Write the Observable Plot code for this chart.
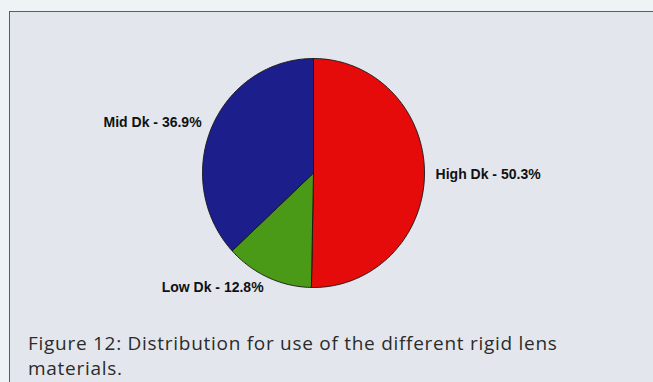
<!DOCTYPE html>
<html>
<head>
<meta charset="utf-8">
<script src="https://cdn.jsdelivr.net/npm/d3@7"></script>
<script src="https://cdn.jsdelivr.net/npm/@observablehq/plot@0.6"></script>
<style>
  html, body { margin: 0; padding: 0; width: 653px; height: 382px; overflow: hidden; background: #eef3f6; }
  #panel { position: absolute; left: 9px; top: 11px; width: 700px; height: 420px; background: #e3e7ed; border: 1px solid #5b5f64; }
  #chart { position: absolute; left: 0; top: 0; }
  #caption { position: absolute; left: 28px; top: 331px; font-family: "Open Sans", sans-serif; font-size: 19px; line-height: 25px; letter-spacing: 0.72px; color: #2b2b2b; }
  #caption div { height: 25px; }
</style>
</head>
<body>
<div id="panel"></div>
<div id="chart"></div>
<div id="caption"><div>Figure 12: Distribution for use of the different rigid lens</div><div>materials.</div></div>
<script>
// Share of rigid lens materials in use (percent), clockwise from 12 o'clock
const categories = ["High Dk", "Low Dk", "Mid Dk"];
const shares = [50.3, 12.8, 36.9];
const colors = ["#e60b0b", "#4b9a17", "#1c1f8b"];

const total = d3.sum(shares);

// Angular extent of each slice (degrees, clockwise from the top)
let start = 0;
const slices = categories.map((category, i) => {
  const sweep = (shares[i] / total) * 360;
  const s = { category, value: shares[i], a0: start, a1: start + sweep };
  start += sweep;
  return s;
});

// Outline of each wedge: centre, along the arc, back to centre
const rad = (deg) => (deg * Math.PI) / 180;
const outline = slices.flatMap((s) => {
  const pts = [{ category: s.category, x: 0, y: 0 }];
  const steps = Math.max(2, Math.ceil(s.a1 - s.a0));
  for (let k = 0; k <= steps; ++k) {
    const a = rad(s.a0 + ((s.a1 - s.a0) * k) / steps);
    pts.push({ category: s.category, x: Math.sin(a), y: Math.cos(a) });
  }
  pts.push({ category: s.category, x: 0, y: 0 });
  return pts;
});

// Label anchors just outside the rim, at each slice's mid-angle
const labels = slices.map((s) => {
  const a = rad((s.a0 + s.a1) / 2);
  return {
    text: `${s.category} - ${s.value.toFixed(1)}%`,
    x: 1.1 * Math.sin(a),
    y: 1.1 * Math.cos(a),
    right: Math.sin(a) >= 0
  };
});

const labelFont = { fontFamily: "'Liberation Sans', Arial, sans-serif", fontWeight: "bold", fontSize: 14, fill: "#111" };

const chart = Plot.plot({
  width: 653,
  height: 320,
  marginLeft: 202,
  marginRight: 229,
  marginTop: 58,
  marginBottom: 33,
  style: { background: "transparent", overflow: "visible" },
  x: { domain: [-1, 1], axis: null },
  y: { domain: [-1, 1], axis: null },
  color: { domain: categories, range: colors },
  marks: [
    Plot.line(outline, {
      x: "x", y: "y", z: "category", fill: "category",
      stroke: "#151515", strokeWidth: 0.9, strokeLinejoin: "round"
    }),
    Plot.text(labels.filter((d) => d.right), { x: "x", y: "y", text: "text", textAnchor: "start", ...labelFont }),
    Plot.text(labels.filter((d) => !d.right), { x: "x", y: "y", text: "text", textAnchor: "end", ...labelFont })
  ]
});

document.getElementById("chart").append(chart);
</script>
</body>
</html>
